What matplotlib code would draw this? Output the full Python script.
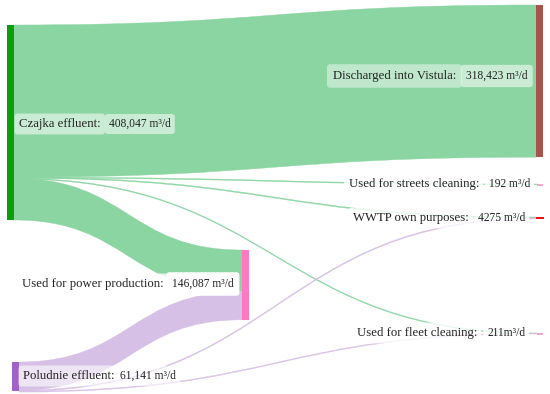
import matplotlib
matplotlib.use('agg')
from matplotlib import pyplot as plt
from matplotlib.path import Path
from matplotlib.patches import PathPatch, Rectangle

# Flow data (m3/d)
node_names = ['Czajka', 'Poludnie', 'Power', 'Vistula', 'Streets', 'WWTP', 'Fleet']
flow_source = ['Czajka', 'Czajka', 'Czajka', 'Czajka', 'Czajka', 'Poludnie', 'Poludnie', 'Poludnie']
flow_target = ['Vistula', 'Streets', 'WWTP', 'Fleet', 'Power', 'Power', 'WWTP', 'Fleet']
flow_value = [318423, 192, 2000, 150, 87282, 58805, 2275, 61]

label_text = {
    'Czajka': 'Czajka effluent:',
    'Poludnie': 'Poludnie effluent:',
    'Power': 'Used for power production:',
    'Vistula': 'Discharged into Vistula:',
    'Streets': 'Used for streets cleaning:',
    'WWTP': 'WWTP own purposes:',
    'Fleet': 'Used for fleet cleaning:',
}
value_text = {
    'Czajka': '408,047 m³/d',
    'Poludnie': '61,141 m³/d',
    'Power': '146,087 m³/d',
    'Vistula': '318,423 m³/d',
    'Streets': '192 m³/d',
    'WWTP': '4275 m³/d',
    'Fleet': '211m³/d',
}

# layout (pixels): x left, y top, width, colour
node_layout = {
    'Czajka': (7, 25, 7, '#0a9e0a'),
    'Poludnie': (12, 362, 7, '#a064c8'),
    'Power': (242, 250, 7, '#ff78c2'),
    'Vistula': (536, 5, 7, '#a5554c'),
    'Streets': (537, 184, 6, '#f6a6c8'),
    'WWTP': (536, 217, 8, '#ee1111'),
    'Fleet': (537, 333, 6, '#f6a6c8'),
}
flow_colors = {'Czajka': '#8ad5a1', 'Poludnie': '#d7c0e6'}
SCALE = 195.0 / 408047  # px per m3/d


def _band(axes, x0, y0a, y0b, x1, y1a, y1b, color):
    xm = (x0 + x1) / 2.0
    verts = [(x0, y0a), (xm, y0a), (xm, y1a), (x1, y1a),
             (x1, y1b), (xm, y1b), (xm, y0b), (x0, y0b), (x0, y0a)]
    codes = [Path.MOVETO, Path.CURVE4, Path.CURVE4, Path.CURVE4,
             Path.LINETO, Path.CURVE4, Path.CURVE4, Path.CURVE4, Path.CLOSEPOLY]
    axes.add_patch(PathPatch(Path(verts, codes), facecolor=color, edgecolor=color,
                             linewidth=0.3, zorder=1))


fig = plt.figure(figsize=(5.5, 3.94), dpi=100)
ax = fig.add_axes([0, 0, 1, 1])
ax.set_xlim(0, 550)
ax.set_ylim(394, 0)
ax.axis('off')

node_total = {}
for n in node_names:
    out_v = sum(v for s, v in zip(flow_source, flow_value) if s == n)
    in_v = sum(v for t, v in zip(flow_target, flow_value) if t == n)
    node_total[n] = max(out_v, in_v)

out_offset = {n: 0.0 for n in node_names}
in_offset = {n: 0.0 for n in node_names}
for s, t, v in zip(flow_source, flow_target, flow_value):
    w = max(v * SCALE, 0.9)
    sx, sy, sw, _ = node_layout[s]
    tx, ty, tw, _ = node_layout[t]
    y0 = sy + out_offset[s]
    y1 = ty + in_offset[t]
    out_offset[s] += v * SCALE
    in_offset[t] += v * SCALE
    _band(ax, sx + sw, y0, y0 + w, tx, y1, y1 + w, flow_colors[s])

for n in node_names:
    x, y, w, c = node_layout[n]
    h = max(node_total[n] * SCALE, 1.6)
    ax.add_patch(Rectangle((x, y), w, h, facecolor=c, edgecolor='none', zorder=2))

font = 'Liberation Serif'


def _label(name, xl, yl, xv, ha='left', alpha=0.55, valpha=None, pad=0.35, vpad=None):
    bb = dict(boxstyle='round,pad=%s,rounding_size=0.25' % pad, fc='white', ec='none', alpha=alpha)
    vb = dict(boxstyle='round,pad=%s,rounding_size=0.25' % (vpad or pad), fc='white', ec='none',
              alpha=valpha if valpha is not None else alpha)
    ax.text(xl, yl, label_text[name], fontsize=9.2, family=font, color='#222222',
            ha=ha, va='center', zorder=3, bbox=bb)
    ax.text(xv, yl, value_text[name], fontsize=8.3, family=font, color='#222222',
            ha='left', va='center', zorder=3, bbox=vb)


_label('Czajka', 19, 124, 109)
_label('Vistula', 456, 76, 466, ha='right', alpha=0.45, valpha=0.55, pad=0.45)
_label('Streets', 479, 184, 489, ha='right', alpha=0.8)
_label('WWTP', 469, 218, 478, ha='right', alpha=0.8)
_label('Fleet', 477, 333, 487, ha='right', alpha=0.8)
_label('Power', 164, 284, 172, ha='right', alpha=0.8, valpha=1.0, vpad=0.5)
_label('Poludnie', 23, 376, 120, alpha=0.6)

plt.savefig('out.png', dpi=100)
